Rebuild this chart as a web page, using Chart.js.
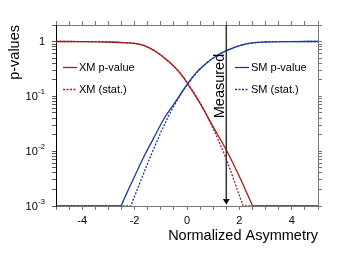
<!DOCTYPE html>
<html><head><meta charset="utf-8">
<script src="https://cdn.jsdelivr.net/npm/chart.js@4"></script>
<style>html,body{margin:0;padding:0;background:#fff}</style>
</head><body>
<canvas id="c" width="346" height="258" style="width:346px;height:258px;display:block"></canvas>
<script>
// ---- data ----
const xmPX = [-5, -4, -2.94, -2.3, -1.79, -1.4, -1.03, -0.7, -0.39, -0.15, 0.03, 0.51, 1.0, 1.54, 2.03, 2.45, 2.51, 5];
const xmPV = [1.0, 0.998, 0.98, 0.946, 0.89, 0.75, 0.58, 0.43, 0.31, 0.226, 0.169, 0.0729, 0.0277, 0.00967, 0.0032, 0.00115, 0.001, 0.001];
const xmSX = [-5, -4, -2.94, -2.3, -1.79, -1.4, -1.03, -0.7, -0.39, -0.15, 0.03, 0.51, 1.0, 1.54, 2.09, 2.15, 5];
const xmSV = [1.0, 0.998, 0.98, 0.946, 0.89, 0.75, 0.58, 0.43, 0.31, 0.226, 0.169, 0.0753, 0.0256, 0.00634, 0.00118, 0.001, 0.001];
const smPX = [-5, -2.52, -2.45, -2.1, -1.67, -1.3, -0.9, -0.45, 0.03, 0.31, 0.51, 1.0, 1.54, 2.23, 3.0, 3.95, 5];
const smPV = [0.001, 0.001, 0.00119, 0.00274, 0.00753, 0.01626, 0.0374, 0.0784, 0.172, 0.256, 0.323, 0.501, 0.694, 0.90, 0.98, 0.997, 1.0];
const smSX = [-5, -2.15, -2.08, -1.41, -0.75, -0.26, 0.12, 0.51, 1.0, 1.54, 2.23, 3.0, 3.95, 5];
const smSV = [0.001, 0.001, 0.00121, 0.00766, 0.0395, 0.104, 0.191, 0.318, 0.50, 0.69, 0.90, 0.98, 0.997, 1.0];
const seriesLabels = ['XM p-value', 'XM (stat.)', 'SM p-value', 'SM (stat.)'];
const measuredX = 1.5;
const measuredLabel = 'Measured';
const xTickLabels = [-4, -2, 0, 2, 4];
const yTickValues = [0.001, 0.01, 0.1, 1];
const yTickText = [['10', '-3'], ['10', '-2'], ['10', '-1'], ['1', '']];

const RED = '#9e1c1c', BLUE = '#1c3a9c';
const FONT = '"Liberation Sans", Arial, Helvetica, sans-serif';
const pts = (xs, vs) => xs.map((x, i) => ({x, y: vs[i]}));

const minorTicks = [];
for (let k = -3; k <= 0; k++) for (let m = 1; m <= 9; m++) {
  const v = +(m * Math.pow(10, k)).toPrecision(6);
  if (v <= 2) minorTicks.push(v);
}

const decor = {
  id: 'decor',
  afterDatasetsDraw(chart) {
    const {ctx, chartArea: a, scales: {x, y}} = chart;
    const mx = x.getPixelForValue(measuredX);
    ctx.save();
    ctx.strokeStyle = '#333'; ctx.lineWidth = 1.5;
    ctx.beginPath(); ctx.moveTo(mx, a.top); ctx.lineTo(mx, a.bottom - 6); ctx.stroke();
    ctx.fillStyle = '#111';
    ctx.beginPath(); ctx.moveTo(mx - 3.5, a.bottom - 7); ctx.lineTo(mx + 3.5, a.bottom - 7);
    ctx.lineTo(mx, a.bottom - 1.5); ctx.closePath(); ctx.fill();
    // Measured label
    ctx.save();
    ctx.translate(mx - 2, a.top + 61);
    ctx.rotate(-Math.PI / 2);
    ctx.font = '14.5px ' + FONT; ctx.fillStyle = '#000';
    ctx.textAlign = 'center'; ctx.textBaseline = 'alphabetic';
    ctx.fillText(measuredLabel, 0, 0);
    ctx.restore();
    // legends
    ctx.font = '11px ' + FONT; ctx.textAlign = 'left'; ctx.textBaseline = 'middle';
    chart.data.datasets.forEach((ds, i) => {
      const gx = i < 2 ? a.left + 7 : a.left + 179;
      const gy = a.top + 42.5 + (i % 2) * 22;
      ctx.strokeStyle = ds.borderColor; ctx.lineWidth = 1.3;
      ctx.setLineDash(ds.borderDash || []);
      ctx.beginPath(); ctx.moveTo(gx, gy); ctx.lineTo(gx + 14, gy); ctx.stroke();
      ctx.setLineDash([]);
      ctx.fillStyle = '#000';
      ctx.fillText(ds.label, gx + 16, gy + 0.5);
    });
    // y tick labels with superscripts
    const rx = a.left - 11;
    yTickValues.forEach((v, i) => {
      const py = y.getPixelForValue(v);
      const [base, sup] = yTickText[i];
      ctx.textAlign = 'right'; ctx.textBaseline = 'middle';
      let sw = 0;
      if (sup) {
        ctx.font = '7.5px ' + FONT;
        sw = ctx.measureText(sup).width;
        ctx.fillText(sup, rx, py - 4);
      }
      ctx.font = '11px ' + FONT;
      ctx.fillText(base, rx - sw - (sup ? 0.5 : 0), py + 0.5);
    });
    ctx.restore();
  }
};

const gridOpts = (color) => ({display: true, drawOnChartArea: false, drawTicks: true, tickLength: 4, color: color, lineWidth: 1});

new Chart(document.getElementById('c'), {
  type: 'line',
  data: {
    datasets: [
      {label: seriesLabels[0], data: pts(xmPX, xmPV), borderColor: RED, borderWidth: 1.3},
      {label: seriesLabels[1], data: pts(xmSX, xmSV), borderColor: RED, borderWidth: 1.3, borderDash: [2, 1.5]},
      {label: seriesLabels[2], data: pts(smPX, smPV), borderColor: BLUE, borderWidth: 1.3},
      {label: seriesLabels[3], data: pts(smSX, smSV), borderColor: BLUE, borderWidth: 1.3, borderDash: [2, 1.5]}
    ]
  },
  options: {
    responsive: false, animation: false, devicePixelRatio: 1,
    layout: {padding: 0},
    elements: {point: {radius: 0}, line: {cubicInterpolationMode: 'monotone', fill: false}},
    plugins: {legend: {display: false}, tooltip: {enabled: false}},
    scales: {
      x: {
        type: 'linear', position: 'bottom', min: -5, max: 5, display: true,
        afterFit: s => { s.height = 52; },
        grid: gridOpts('#777'), border: {display: true, color: '#777', width: 1},
        ticks: {stepSize: 0.5, autoSkip: false, maxRotation: 0, padding: 4, color: '#000',
          font: {family: FONT, size: 11},
          callback: v => xTickLabels.includes(v) ? String(v) : ''},
        title: {display: true, text: 'Normalized Asymmetry', align: 'end', color: '#000',
          font: {family: FONT, size: 14.5}, padding: {top: 0, bottom: 13.6}}
      },
      x2: {
        type: 'linear', axis: 'x', position: 'top', min: -5, max: 5, display: true,
        afterFit: s => { s.height = 25; },
        grid: gridOpts('#777'), border: {display: true, color: '#777', width: 1},
        ticks: {stepSize: 0.5, autoSkip: false, display: false}
      },
      y: {
        type: 'logarithmic', position: 'left', min: 0.001, max: 2, display: true,
        afterFit: s => { s.width = 56; },
        afterBuildTicks: s => { s.ticks = minorTicks.map(v => ({value: v})); },
        grid: gridOpts('#555'), border: {display: true, color: '#000', width: 1},
        ticks: {display: false},
        title: {display: true, text: 'p-values', align: 'end', color: '#000',
          font: {family: FONT, size: 14.5}, padding: {top: 6.3, bottom: 0}}
      },
      y2: {
        type: 'logarithmic', axis: 'y', position: 'right', min: 0.001, max: 2, display: true,
        afterFit: s => { s.width = 28; },
        afterBuildTicks: s => { s.ticks = minorTicks.map(v => ({value: v})); },
        grid: gridOpts('#777'), border: {display: true, color: '#777', width: 1},
        ticks: {display: false}
      }
    }
  },
  plugins: [decor]
});
</script>
</body></html>
